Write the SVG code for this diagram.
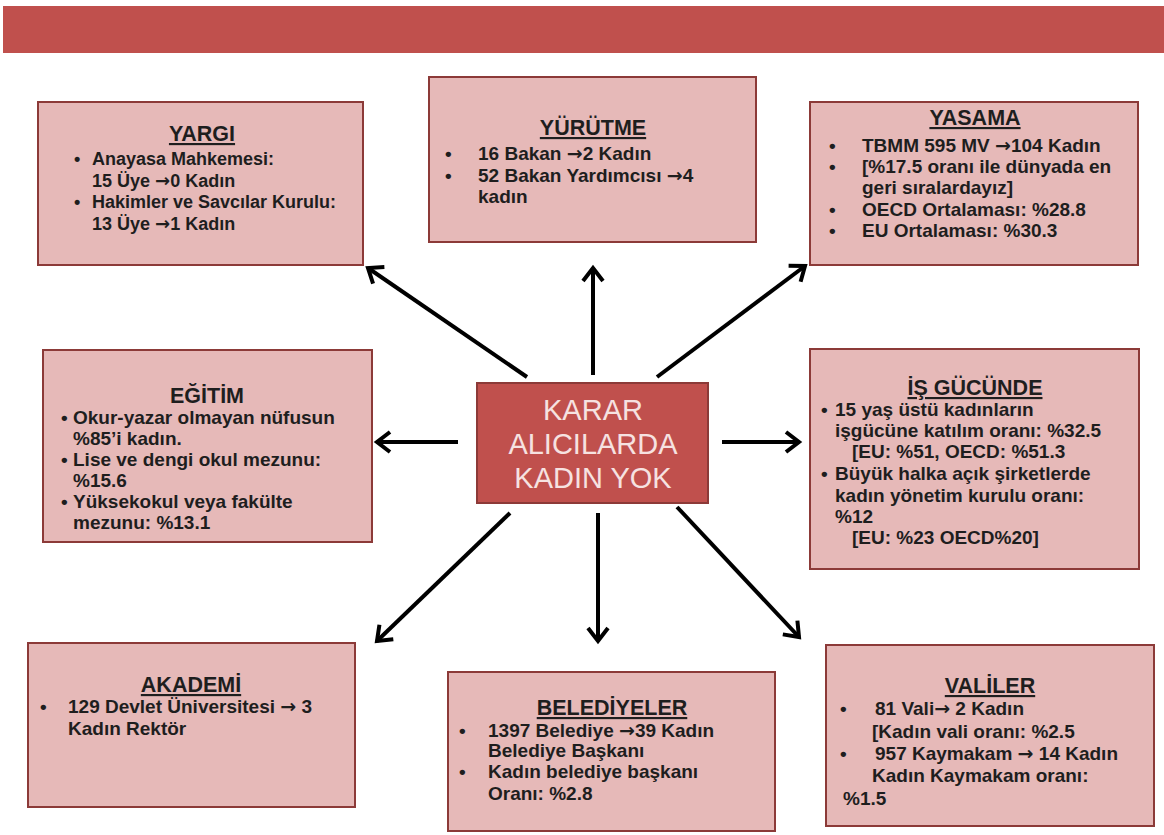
<svg xmlns="http://www.w3.org/2000/svg" width="1164" height="835" viewBox="0 0 1164 835">
<style>
.box{fill:#E6B9B8;stroke:#8C3A38;stroke-width:2}
.t{font-family:"Liberation Sans",Arial,sans-serif;font-weight:bold;fill:#1e1e1e;font-size:19px}
.s{font-size:18px}
.a{font-family:"DejaVu Sans",sans-serif;font-weight:bold}
.h{font-family:"Liberation Sans",Arial,sans-serif;font-weight:bold;fill:#1e1e1e;font-size:21.5px;text-anchor:middle;text-decoration:underline}
.c{font-family:"Liberation Sans",Arial,sans-serif;fill:#F6E2E1;font-size:29px;text-anchor:middle}
.arr{stroke:#000;stroke-width:4;fill:none;marker-end:url(#ah)}
</style>
<defs>
<marker id="ah" viewBox="-18 -14 22 28" refX="0" refY="0" markerWidth="22" markerHeight="28" markerUnits="userSpaceOnUse" orient="auto">
<path d="M-13,-10 L0,0 L-13,10" fill="none" stroke="#000" stroke-width="4"/>
</marker>
</defs>
<rect width="1164" height="835" fill="#ffffff"/>
<rect x="3" y="6" width="1161" height="47" fill="#C0504D"/>

<g id="connectors">
<line class="arr" x1="527" y1="377" x2="368" y2="268"/>
<line class="arr" x1="593" y1="375" x2="593" y2="268"/>
<line class="arr" x1="657" y1="377" x2="805" y2="266"/>
<line class="arr" x1="458" y1="442" x2="377" y2="442"/>
<line class="arr" x1="722" y1="442" x2="799" y2="442"/>
<line class="arr" x1="510" y1="513" x2="377" y2="641"/>
<line class="arr" x1="598" y1="513" x2="598" y2="641"/>
<line class="arr" x1="677" y1="507" x2="799" y2="637"/>
</g>

<g id="center">
<rect x="477" y="383" width="231" height="120" fill="#C0504D" stroke="#8C3A38" stroke-width="2"/>
<text class="c" x="593" y="420">KARAR</text>
<text class="c" x="593" y="454">ALICILARDA</text>
<text class="c" x="593" y="488">KADIN YOK</text>
</g>

<g id="yargi">
<rect class="box" x="38" y="102" width="325" height="163"/>
<text class="h" x="202" y="141">YARGI</text>
<text class="t s" x="74" y="165">•</text><text class="t s" x="92" y="165">Anayasa Mahkemesi:</text>
<text class="t s" x="92" y="187">15 Üye <tspan class="a">→</tspan>0 Kadın</text>
<text class="t s" x="74" y="208">•</text><text class="t s" x="92" y="208">Hakimler ve Savcılar Kurulu:</text>
<text class="t s" x="92" y="230">13 Üye <tspan class="a">→</tspan>1 Kadın</text>
</g>

<g id="yurutme">
<rect class="box" x="429" y="77" width="327" height="165"/>
<text class="h" x="593" y="135">YÜRÜTME</text>
<text class="t" x="445" y="160">•</text><text class="t" x="478" y="160">16 Bakan <tspan class="a">→</tspan>2 Kadın</text>
<text class="t" x="445" y="182">•</text><text class="t" x="478" y="182">52 Bakan Yardımcısı <tspan class="a">→</tspan>4</text>
<text class="t" x="478" y="203">kadın</text>
</g>

<g id="yasama">
<rect class="box" x="810" y="102" width="328" height="163"/>
<text class="h" x="975" y="125">YASAMA</text>
<text class="t" x="829" y="152">•</text><text class="t" x="862" y="152">TBMM 595 MV <tspan class="a">→</tspan>104 Kadın</text>
<text class="t" x="829" y="173">•</text><text class="t" x="862" y="173">[%17.5 oranı ile dünyada en</text>
<text class="t" x="862" y="194">geri sıralardayız]</text>
<text class="t" x="829" y="216">•</text><text class="t" x="862" y="216">OECD Ortalaması: %28.8</text>
<text class="t" x="829" y="237">•</text><text class="t" x="862" y="237">EU Ortalaması: %30.3</text>
</g>

<g id="egitim">
<rect class="box" x="43" y="350" width="329" height="192"/>
<text class="h" x="207" y="403" style="text-decoration:none">EĞİTİM</text>
<text class="t" x="61" y="424">•</text><text class="t" x="73" y="424">Okur-yazar olmayan nüfusun</text>
<text class="t" x="73" y="445">%85’i kadın.</text>
<text class="t" x="61" y="466">•</text><text class="t" x="73" y="466">Lise ve dengi okul mezunu:</text>
<text class="t" x="73" y="487">%15.6</text>
<text class="t" x="61" y="508">•</text><text class="t" x="73" y="508">Yüksekokul veya fakülte</text>
<text class="t" x="73" y="529">mezunu: %13.1</text>
</g>

<g id="isgucu">
<rect class="box" x="810" y="349" width="329" height="220"/>
<text class="h" x="975" y="395">İŞ GÜCÜNDE</text>
<text class="t" x="821" y="416">•</text><text class="t" x="835" y="416">15 yaş üstü kadınların</text>
<text class="t" x="835" y="437">işgücüne katılım oranı: %32.5</text>
<text class="t" x="852" y="458">[EU: %51, OECD: %51.3</text>
<text class="t" x="821" y="480">•</text><text class="t" x="835" y="480">Büyük halka açık şirketlerde</text>
<text class="t" x="835" y="502">kadın yönetim kurulu oranı:</text>
<text class="t" x="835" y="523">%12</text>
<text class="t" x="852" y="544">[EU: %23 OECD%20]</text>
</g>

<g id="akademi">
<rect class="box" x="28" y="643" width="327" height="164"/>
<text class="h" x="191" y="692">AKADEMİ</text>
<text class="t" x="40" y="713">•</text><text class="t" x="68" y="713">129 Devlet Üniversitesi <tspan class="a">→</tspan> 3</text>
<text class="t" x="68" y="735">Kadın Rektör</text>
</g>

<g id="belediyeler">
<rect class="box" x="448" y="672" width="327" height="159"/>
<text class="h" x="612" y="715">BELEDİYELER</text>
<text class="t" x="459" y="737">•</text><text class="t" x="488" y="737">1397 Belediye <tspan class="a">→</tspan>39 Kadın</text>
<text class="t" x="488" y="757">Belediye Başkanı</text>
<text class="t" x="459" y="778">•</text><text class="t" x="488" y="778">Kadın belediye başkanı</text>
<text class="t" x="488" y="800">Oranı: %2.8</text>
</g>

<g id="valiler">
<rect class="box" x="826" y="645" width="328" height="181"/>
<text class="h" x="990" y="693">VALİLER</text>
<text class="t" x="840" y="715">•</text><text class="t" x="875" y="715">81 Vali<tspan class="a">→</tspan> 2 Kadın</text>
<text class="t" x="872" y="738">[Kadın vali oranı: %2.5</text>
<text class="t" x="840" y="760">•</text><text class="t" x="875" y="760">957 Kaymakam <tspan class="a">→</tspan> 14 Kadın</text>
<text class="t" x="872" y="782">Kadın Kaymakam oranı:</text>
<text class="t" x="843" y="805">%1.5</text>
</g>
</svg>
